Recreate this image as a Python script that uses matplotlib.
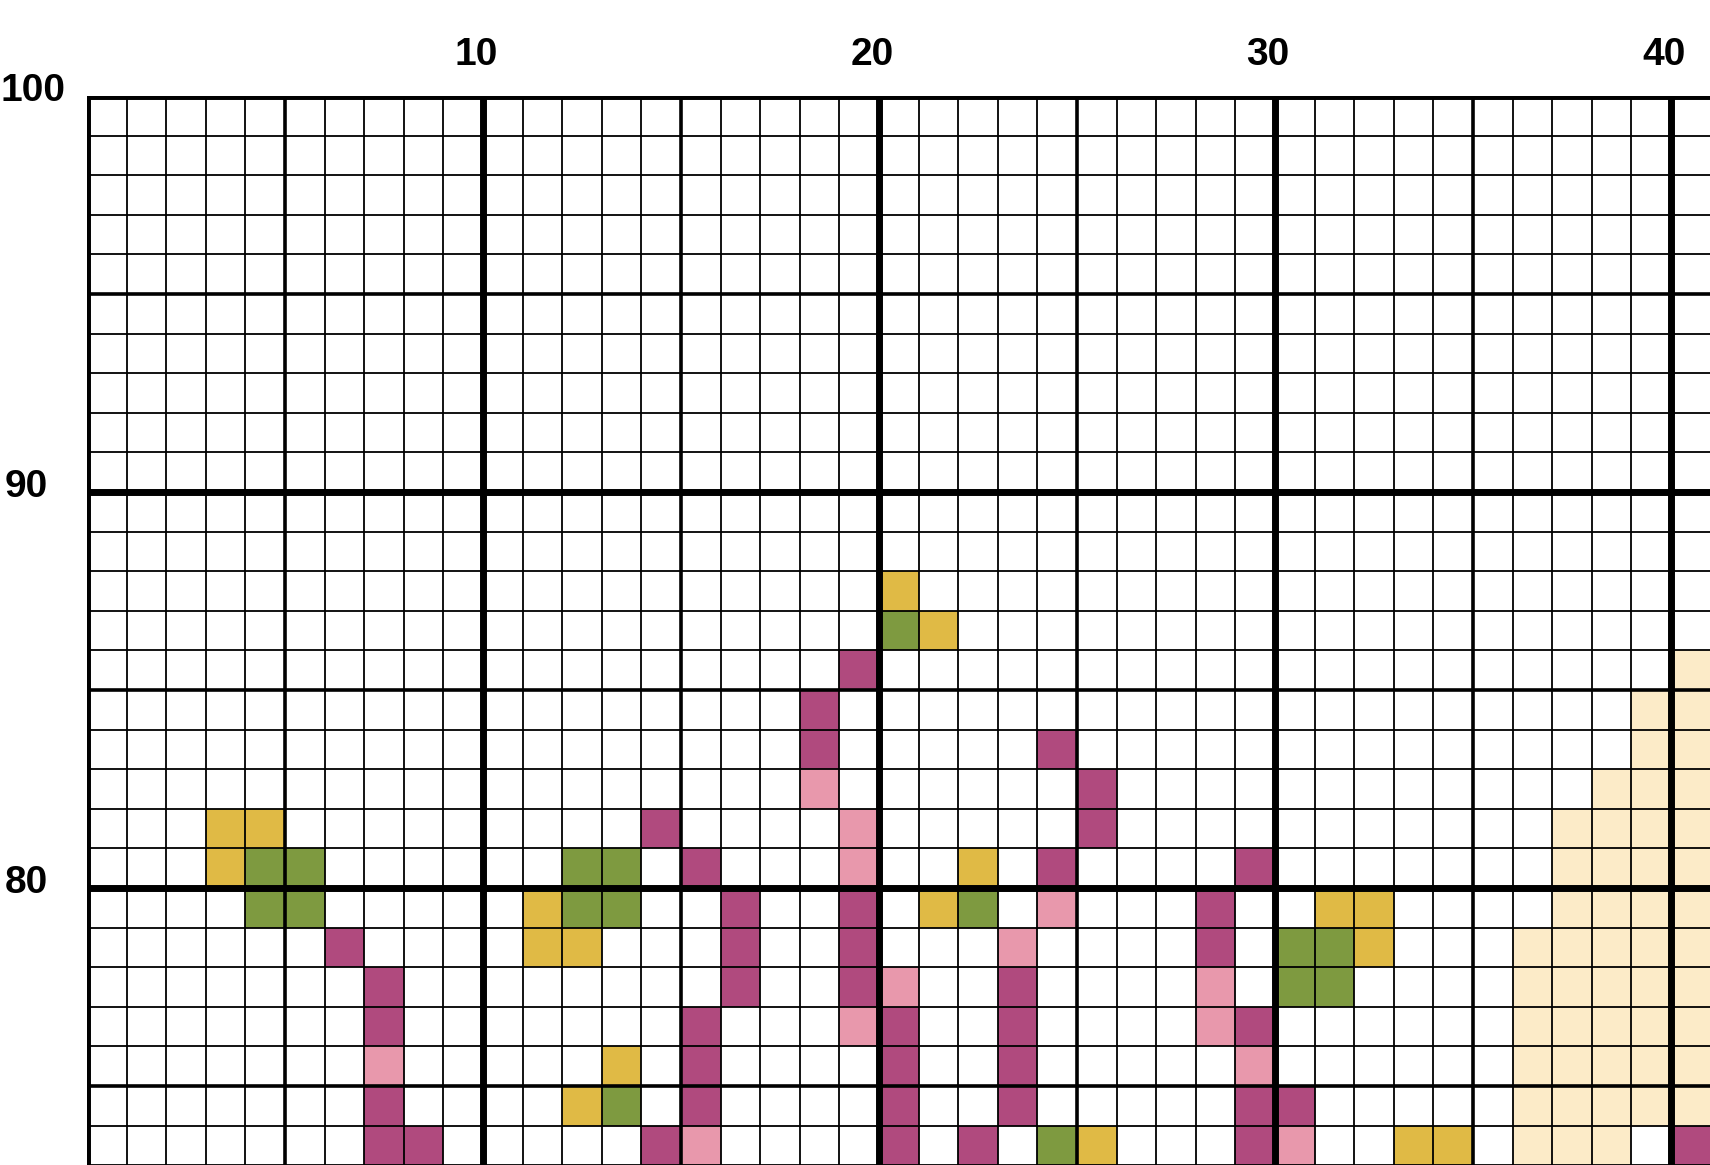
import numpy as np
import matplotlib.pyplot as plt
from matplotlib.colors import ListedColormap
from matplotlib.transforms import ScaledTranslation

# cells as (row from top, column from left), row 0 = top row under line 100
magenta = [(14, 19), (15, 18), (16, 18), (16, 24), (17, 25), (18, 25), (18, 14),
           (19, 15), (19, 24), (19, 29),
           (20, 16), (20, 19), (20, 28),
           (21, 6), (21, 16), (21, 19), (21, 28),
           (22, 7), (22, 16), (22, 19), (22, 23),
           (23, 7), (23, 15), (23, 20), (23, 23), (23, 29),
           (24, 15), (24, 20), (24, 23),
           (25, 7), (25, 15), (25, 20), (25, 23), (25, 29), (25, 30),
           (26, 7), (26, 8), (26, 14), (26, 20), (26, 22), (26, 29), (26, 40)]
pink = [(17, 18), (18, 19), (19, 19), (20, 24), (21, 23), (22, 20), (22, 28),
        (23, 19), (23, 28), (24, 7), (24, 29), (26, 15), (26, 30)]
gold = [(12, 20), (13, 21), (18, 3), (18, 4), (19, 3), (19, 22),
        (20, 11), (20, 21), (20, 31), (20, 32), (21, 11), (21, 12), (21, 32),
        (24, 13), (25, 12), (26, 25), (26, 33), (26, 34)]
green = [(13, 20), (19, 4), (19, 5), (20, 4), (20, 5), (19, 12), (19, 13),
         (20, 12), (20, 13), (20, 22), (21, 30), (21, 31), (22, 30), (22, 31),
         (25, 13), (26, 24)]
# cream background area: row -> (first col, last col)
cream_rows = {14: (40, 40), 15: (39, 40), 16: (39, 40), 17: (38, 40),
              18: (37, 40), 19: (37, 40), 20: (37, 40), 21: (36, 40),
              22: (36, 40), 23: (36, 40), 24: (36, 40), 25: (36, 40), 26: (36, 38)}

x_labels = [10, 20, 30, 40]
y_labels = [100, 90, 80]

n_rows, n_cols = 28, 42
grid = np.zeros((n_rows, n_cols))
for r, (a, b) in cream_rows.items():
    grid[r, a:b + 1] = 1
for code, cells in [(2, magenta), (3, pink), (4, gold), (5, green)]:
    for r, c in cells:
        grid[r, c] = code

cmap = ListedColormap(['#FFFFFF', '#FCEBC8', '#B04A7E', '#E898AC', '#E0BA45', '#7E9A40'])

fig = plt.figure(figsize=(17.1, 11.65), dpi=100)
W, H = 1710, 1165
left, top, cell = 87, 96, 39.6
ax = fig.add_axes([left / W, 0, (W - left) / W, (H - top) / H])
xs = np.arange(n_cols + 1)
ys = 100 - np.arange(n_rows + 1)
ax.pcolormesh(xs, ys, grid, cmap=cmap, vmin=0, vmax=5)
ax.set_xlim(0, (W - left) / cell)
ax.set_ylim(100 - (H - top) / cell, 100)

for k in range(n_cols + 1):
    lw = 5 if k % 10 == 0 else (2.6 if k % 5 == 0 else 1.3)
    ax.axvline(k, color='black', lw=lw)
for k in range(n_rows + 1):
    lw = 5 if k % 10 == 0 else (2.6 if k % 5 == 0 else 1.3)
    ax.axhline(100 - k, color='black', lw=lw)

ax.set_xticks(x_labels)
ax.set_xticklabels([str(v) for v in x_labels])
ax.set_yticks(y_labels)
ax.set_yticklabels([str(v) for v in y_labels])
ax.xaxis.tick_top()
ax.tick_params(length=0, labelsize=28)
ax.tick_params(axis='x', pad=16.5)
ax.tick_params(axis='y', pad=62.6)
for t in ax.get_xticklabels() + ax.get_yticklabels():
    t.set_fontweight('bold')
    t.set_fontfamily('Liberation Sans')
for t in ax.get_xticklabels():
    t.set_transform(t.get_transform() + ScaledTranslation(-0.07, 0, fig.dpi_scale_trans))
for t in ax.get_yticklabels():
    t.set_horizontalalignment('left')
    t.set_verticalalignment('center')
    shift = 0 if t.get_text() == '100' else 0.05
    t.set_transform(t.get_transform() + ScaledTranslation(shift, 0.05, fig.dpi_scale_trans))
for s in ax.spines.values():
    s.set_visible(False)

fig.savefig('out.png', dpi=100)
